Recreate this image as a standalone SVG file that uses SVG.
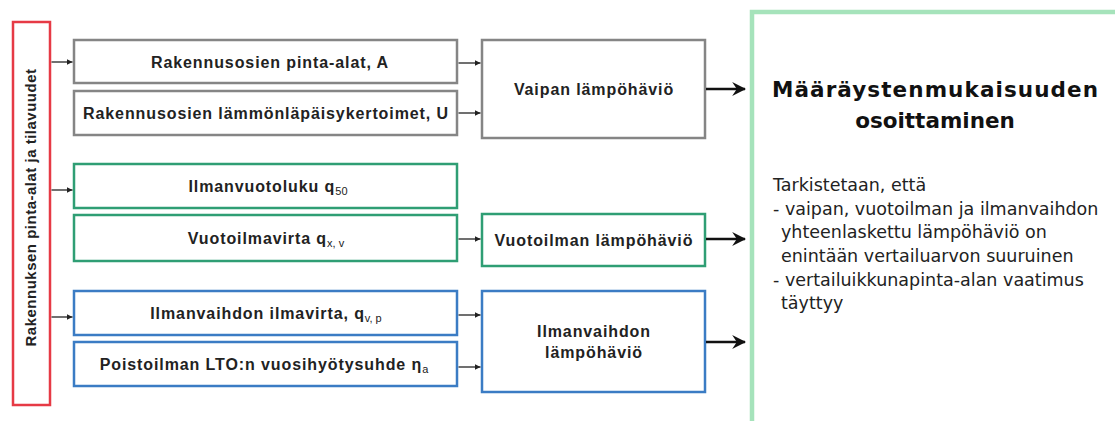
<svg xmlns="http://www.w3.org/2000/svg" width="1115" height="421" viewBox="0 0 1115 421">
<defs>
<style>
.box{fill:#ffffff;stroke-width:2.5}
.gray{stroke:#858585}
.green{stroke:#2f9e74}
.blue{stroke:#3b7cc4}
.red{stroke:#e63a45}
.lbl{font-family:"Liberation Sans",Arial,sans-serif;font-weight:bold;font-size:16px;letter-spacing:0.9px;fill:#222;text-anchor:middle}
.vlbl{font-family:"Liberation Sans",Arial,sans-serif;font-weight:bold;font-size:15px;letter-spacing:0.5px;fill:#222;text-anchor:middle}
.sub{font-size:11px;font-weight:normal;letter-spacing:0}
.thin{stroke:#222;stroke-width:1.3;fill:none;marker-end:url(#small)}
.thick{stroke:#111;stroke-width:2.5;fill:none;marker-end:url(#big)}
.title{font-family:"DejaVu Sans",Verdana,sans-serif;font-weight:bold;font-size:21.5px;fill:#111;text-anchor:middle}
.body{font-family:"DejaVu Sans",Verdana,sans-serif;font-size:17.5px;fill:#222}
</style>
<marker id="small" viewBox="0 0 10 10" refX="10" refY="5" markerWidth="6" markerHeight="6" markerUnits="userSpaceOnUse" orient="auto">
<path d="M0,0 L10,5 L0,10 z" fill="#222"/>
</marker>
<marker id="big" viewBox="0 0 12 12" refX="11" refY="6" markerWidth="14" markerHeight="14" markerUnits="userSpaceOnUse" orient="auto">
<path d="M0,0 L12,6 L0,12 L4,6 z" fill="#111"/>
</marker>
</defs>
<rect width="1115" height="421" fill="#ffffff"/>

<g id="result">
<rect x="752" y="12" width="390" height="430" fill="#ffffff" stroke="#a6e3bb" stroke-width="4.5"/>
<text class="title" x="935" y="97" textLength="326" lengthAdjust="spacing">Määräystenmukaisuuden</text>
<text class="title" x="935" y="128">osoittaminen</text>
<text class="body" x="773" y="191">Tarkistetaan, että</text>
<text class="body" x="773" y="214.5">- vaipan, vuotoilman ja ilmanvaihdon</text>
<text class="body" x="781" y="238">yhteenlaskettu lämpöhäviö on</text>
<text class="body" x="781" y="262">enintään vertailuarvon suuruinen</text>
<text class="body" x="773" y="285.5">- vertailuikkunapinta-alan vaatimus</text>
<text class="body" x="781" y="309">täyttyy</text>
</g>

<g id="building">
<rect class="box red" x="13" y="22" width="37" height="383"/>
<text class="vlbl" x="0" y="0" transform="translate(36,207.5) rotate(-90)">Rakennuksen pinta-alat ja tilavuudet</text>
</g>

<g id="areaA">
<rect class="box gray" x="74" y="40" width="383" height="43"/>
<text class="lbl" x="270" y="67.5">Rakennusosien pinta-alat, A</text>
</g>
<g id="uvalues">
<rect class="box gray" x="74" y="91" width="383" height="44"/>
<text class="lbl" x="266" y="118.5">Rakennusosien lämmönläpäisykertoimet, U</text>
</g>
<g id="q50">
<rect class="box green" x="74" y="164" width="383" height="44"/>
<text class="lbl" x="268" y="191.5">Ilmanvuotoluku q<tspan class="sub" dy="3">50</tspan></text>
</g>
<g id="leakflow">
<rect class="box green" x="74" y="215" width="383" height="46"/>
<text class="lbl" x="266" y="243.5">Vuotoilmavirta q<tspan class="sub" dy="3">x, v</tspan></text>
</g>
<g id="ventflow">
<rect class="box blue" x="74" y="291" width="383" height="44"/>
<text class="lbl" x="266" y="318.5">Ilmanvaihdon ilmavirta, q<tspan class="sub" dy="3">v, p</tspan></text>
</g>
<g id="hrefficiency">
<rect class="box blue" x="74" y="342" width="383" height="44"/>
<text class="lbl" x="264" y="369.5">Poistoilman LTO:n vuosihyötysuhde η<tspan class="sub" dy="3">a</tspan></text>
</g>

<g id="envelopeloss">
<rect class="box gray" x="482" y="40" width="223" height="98"/>
<text class="lbl" x="594" y="95">Vaipan lämpöhäviö</text>
</g>
<g id="leakloss">
<rect class="box green" x="482" y="214" width="223" height="52"/>
<text class="lbl" x="594" y="245.5">Vuotoilman lämpöhäviö</text>
</g>
<g id="ventloss">
<rect class="box blue" x="482" y="291" width="223" height="101"/>
<text class="lbl" x="594" y="337">Ilmanvaihdon</text>
<text class="lbl" x="594" y="358">lämpöhäviö</text>
</g>

<g id="connectors">
<line class="thin" x1="51.5" y1="62" x2="72.5" y2="62"/>
<line class="thin" x1="51.5" y1="190" x2="72.5" y2="190"/>
<line class="thin" x1="51.5" y1="317" x2="72.5" y2="317"/>
<line class="thin" x1="458.5" y1="63" x2="480.5" y2="63"/>
<line class="thin" x1="458.5" y1="113" x2="480.5" y2="113"/>
<line class="thin" x1="458.5" y1="239" x2="480.5" y2="239"/>
<line class="thin" x1="458.5" y1="315" x2="480.5" y2="315"/>
<line class="thin" x1="458.5" y1="367" x2="480.5" y2="367"/>
<line class="thick" x1="706" y1="89" x2="745" y2="89"/>
<line class="thick" x1="706" y1="239" x2="745" y2="239"/>
<line class="thick" x1="706" y1="342" x2="745" y2="342"/>
</g>
</svg>
